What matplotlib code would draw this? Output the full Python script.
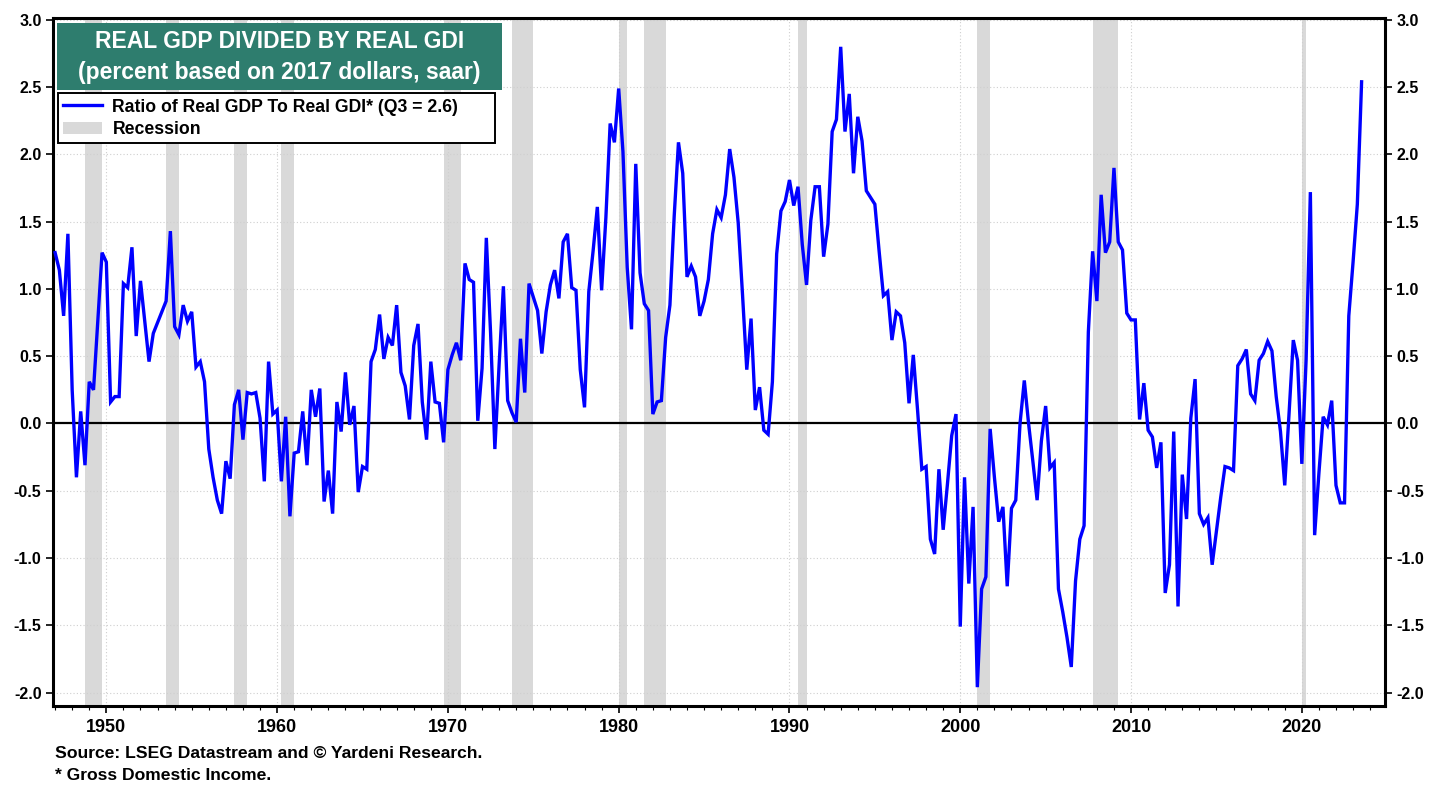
import numpy as np
import matplotlib
matplotlib.use("Agg")
import matplotlib.pyplot as plt
import matplotlib.ticker as mticker
from matplotlib.patches import Rectangle, Patch
from matplotlib.lines import Line2D
import pandas as pd

# ratio of real GDP to real GDI (percent), quarterly 1947Q1 - 2023Q3
ratio = [
    1.27, 1.14, 0.80, 1.41,   0.25, -0.40, 0.09, -0.31,   0.31, 0.25, 0.76, 1.27,    # 1947-49
    1.20, 0.16, 0.20, 0.20,   1.04, 1.01, 1.31, 0.65,   1.06, 0.76, 0.46, 0.67,      # 1950-52
    0.75, 0.83, 0.91, 1.43,   0.72, 0.66, 0.88, 0.76,   0.83, 0.42, 0.46, 0.31,      # 1953-55
    -0.19, -0.40, -0.57, -0.67,   -0.28, -0.41, 0.14, 0.25,   -0.12, 0.23, 0.22, 0.23,  # 1956-58
    0.04, -0.43, 0.46, 0.07,   0.10, -0.43, 0.05, -0.69,   -0.22, -0.21, 0.09, -0.31,  # 1959-61
    0.25, 0.05, 0.26, -0.58,   -0.35, -0.67, 0.16, -0.06,   0.38, -0.01, 0.13, -0.51,  # 1962-64
    -0.32, -0.34, 0.46, 0.55,   0.81, 0.48, 0.64, 0.58,   0.88, 0.38, 0.28, 0.03,     # 1965-67
    0.58, 0.74, 0.16, -0.12,   0.46, 0.16, 0.15, -0.14,   0.40, 0.51, 0.60, 0.47,     # 1968-70
    1.19, 1.07, 1.05, 0.02,   0.41, 1.38, 0.67, -0.19,   0.44, 1.02, 0.17, 0.08,      # 1971-73
    0.01, 0.63, 0.23, 1.04,   0.94, 0.84, 0.52, 0.83,   1.03, 1.14, 0.93, 1.35,       # 1974-76
    1.41, 1.01, 0.99, 0.40,   0.12, 0.98, 1.28, 1.61,   0.99, 1.53, 2.23, 2.09,       # 1977-79
    2.49, 2.02, 1.16, 0.70,   1.93, 1.12, 0.89, 0.84,   0.07, 0.16, 0.17, 0.64,       # 1980-82
    0.88, 1.54, 2.09, 1.86,   1.09, 1.17, 1.09, 0.80,   0.91, 1.07, 1.41, 1.59,       # 1983-85
    1.53, 1.70, 2.04, 1.83,   1.49, 0.96, 0.40, 0.78,   0.10, 0.27, -0.05, -0.08,     # 1986-88
    0.31, 1.26, 1.58, 1.65,   1.81, 1.62, 1.76, 1.33,   1.03, 1.51, 1.76, 1.76,       # 1989-91
    1.24, 1.48, 2.17, 2.26,   2.80, 2.17, 2.45, 1.86,   2.28, 2.10, 1.73, 1.68,       # 1992-94
    1.63, 1.28, 0.95, 0.98,   0.62, 0.83, 0.80, 0.60,   0.15, 0.51, 0.10, -0.34,      # 1995-97
    -0.32, -0.86, -0.97, -0.34,   -0.79, -0.45, -0.09, 0.07,   -1.51, -0.40, -1.19, -0.62,  # 1998-2000
    -1.96, -1.23, -1.14, -0.04,   -0.40, -0.73, -0.62, -1.21,   -0.63, -0.57, 0.00, 0.32,   # 2001-03
    0.00, -0.28, -0.57, -0.13,   0.13, -0.33, -0.29, -1.23,   -1.40, -1.59, -1.81, -1.17,   # 2004-06
    -0.86, -0.76, 0.68, 1.28,   0.91, 1.70, 1.27, 1.35,   1.90, 1.35, 1.29, 0.82,     # 2007-09
    0.77, 0.77, 0.03, 0.30,   -0.05, -0.10, -0.33, -0.14,   -1.26, -1.05, -0.06, -1.36,  # 2010-12
    -0.38, -0.71, 0.04, 0.33,   -0.67, -0.75, -0.70, -1.05,   -0.80, -0.55, -0.32, -0.33,  # 2013-15
    -0.35, 0.43, 0.48, 0.55,   0.22, 0.17, 0.47, 0.52,   0.61, 0.54, 0.20, -0.06,     # 2016-18
    -0.46, 0.07, 0.62, 0.47,   -0.30, 0.47, 1.72, -0.83,   -0.37, 0.05, -0.01, 0.17,  # 2019-21
    -0.46, -0.59, -0.59, 0.80,   1.20, 1.63, 2.54,                                     # 2022-23
]

# recessions (peak quarter, trough quarter)
rec_start = [1948.75, 1953.5, 1957.5, 1960.25, 1969.75, 1973.75, 1980.0, 1981.5, 1990.5, 2001.0, 2007.75, 2020.0]
rec_end = [1949.75, 1954.25, 1958.25, 1961.0, 1970.75, 1975.0, 1980.5, 1982.75, 1991.0, 2001.75, 2009.25, 2020.25]

y_ticks = [3.0, 2.5, 2.0, 1.5, 1.0, 0.5, 0.0, -0.5, -1.0, -1.5, -2.0]

quarters = pd.period_range("1947Q1", periods=len(ratio), freq="Q")
t = quarters.year + (quarters.quarter - 1) / 4.0

plt.rcParams["font.family"] = ["Liberation Sans", "DejaVu Sans"]

W, H = 1445, 792
fig = plt.figure(figsize=(W / 100, H / 100), dpi=100)
ax_l, ax_r, ax_t, ax_b = 52.7, 1385, 18.3, 706
ax = fig.add_axes([ax_l / W, 1 - ax_b / H, (ax_r - ax_l) / W, (ax_b - ax_t) / H])

for s, e in zip(rec_start, rec_end):
    ax.axvspan(s, e, color="#d9d9d9", lw=0, zorder=0)

ax.plot(t, ratio, color="#0000ff", lw=2.4, zorder=3, solid_joinstyle="miter")
ax.axhline(0, color="black", lw=1.6, zorder=2)

ax.set_xlim(1946.86, 2024.87)
ax.set_ylim(-2.1, 3.012)

ax.xaxis.set_major_locator(mticker.MultipleLocator(10))
ax.xaxis.set_minor_locator(mticker.MultipleLocator(1))
ax.set_yticks(y_ticks)
ax.yaxis.set_major_formatter(mticker.FormatStrFormatter("%.1f"))
ax.grid(True, which="major", color="#cfcfcf", lw=0.8, ls=(0, (1, 2)), zorder=1)

ax.tick_params(axis="y", which="both", direction="out", length=5, width=1.2,
               left=True, right=True, labelleft=True, labelright=True, labelsize=11.5, pad=3)
ax.tick_params(axis="x", which="major", direction="out", length=5, width=1.2, labelsize=13, pad=4)
ax.tick_params(axis="x", which="minor", direction="out", length=3, width=0.8)
for lab in ax.get_yticklabels() + ax.get_xticklabels():
    lab.set_fontweight("bold")
for sp in ax.spines.values():
    sp.set_linewidth(2.2)
    sp.set_color("black")

# title box
fig.patches.append(Rectangle((57 / W, 1 - 90 / H), (502 - 57) / W, (90 - 22.7) / H,
                             transform=fig.transFigure, facecolor="#2e7d6e", edgecolor="none", zorder=5))
fig.text(279.5 / W, 1 - 42 / H, "REAL GDP DIVIDED BY REAL GDI", color="white", fontsize=16.5,
         ha="center", va="center", fontweight="bold", zorder=6)
fig.text(279.5 / W, 1 - 72 / H, "(percent based on 2017 dollars, saar)", color="white", fontsize=16.5,
         ha="center", va="center", fontweight="bold", zorder=6)

handles = [Line2D([], [], color="#0000ff", lw=2.4), Patch(facecolor="#d9d9d9", edgecolor="none")]
labels = ["Ratio of Real GDP To Real GDI* (Q3 = 2.6)", "Recession"]
x0 = (57.7 - ax_l) / (ax_r - ax_l)
y1 = 1 - (93.3 - ax_t) / (ax_b - ax_t)
leg = ax.legend(handles, labels, loc="upper left", bbox_to_anchor=(x0, y1 - 0.2, (495 - 57.7) / (ax_r - ax_l), 0.2),
                mode="expand", borderaxespad=0, fancybox=False, framealpha=1, edgecolor="black",
                prop={"weight": "bold", "size": 12.7}, handlelength=2.2, handletextpad=0.6,
                borderpad=0.3, labelspacing=0.3)
leg.get_frame().set_linewidth(1.4)
leg.set_zorder(6)

fig.text(55 / W, 1 - 753 / H, "Source: LSEG Datastream and \u00a9 Yardeni Research.", fontsize=12.6,
         fontweight="bold", va="center")
fig.text(55 / W, 1 - 776 / H, "* Gross Domestic Income.", fontsize=12.6,
         fontweight="bold", va="center")

fig.savefig("out.png", dpi=100)
